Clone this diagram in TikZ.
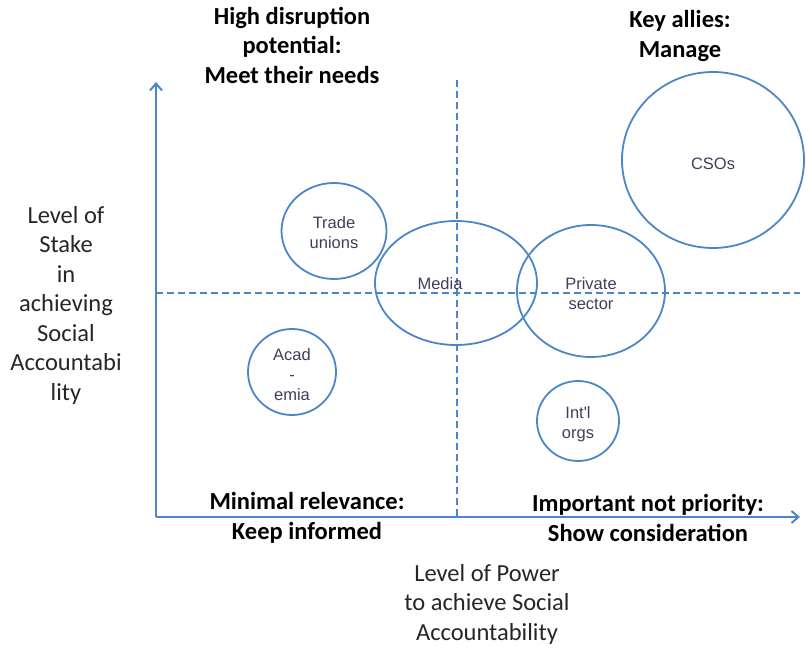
\documentclass[tikz,border=0pt]{standalone}
\usepackage{fontspec}
\setmainfont{Carlito}
\newfontfamily\bubblefont{Liberation Sans}
\usetikzlibrary{shapes.geometric,arrows.meta}
\definecolor{axisblue}{HTML}{4A86C8}
\definecolor{bubbletext}{HTML}{3C3F5C}
\tikzset{
  quadtitle/.style={font=\bfseries\fontsize{24.5}{29.5}\selectfont, align=center, text=black, inner sep=0pt},
  axistitle/.style={font=\fontsize{24.5}{29.5}\selectfont, align=center, text=black!85, inner sep=0pt},
  bubble/.style={ellipse, draw=axisblue, line width=1.8pt, inner sep=0pt},
  bubtext/.style={font=\bubblefont\fontsize{16.5}{20}\selectfont, align=center, text=bubbletext, inner sep=0pt},
  axisline/.style={draw=axisblue, line width=2pt, -{Straight Barb[length=7pt,width=12pt,line width=2pt]}},
  divider/.style={draw=axisblue, line width=1.8pt, dash pattern=on 7pt off 4pt},
}
\begin{document}
\begin{tikzpicture}[x=1pt,y=-1pt]
  \useasboundingbox (0,0) rectangle (806,652);

  % stakeholder bubbles
  \node[bubble, minimum width=105pt, minimum height=96pt] (unions) at (334,231) {};
  \node[bubble, minimum width=162pt, minimum height=124pt] (media) at (456,283) {};
  \node[bubble, minimum width=88pt, minimum height=86pt] (acad) at (292,372) {};
  \node[bubble, minimum width=148pt, minimum height=132pt] (private) at (591,291) {};
  \node[bubble, minimum width=82pt, minimum height=80pt] (intl) at (578,421) {};
  \node[bubble, minimum width=182pt, minimum height=176pt] (csos) at (713,160) {};

  % axes and quadrant dividers
  \coordinate (origin) at (156,517);
  \coordinate (ytip) at (156,82);
  \coordinate (xtip) at (800,517);
  \coordinate (vtop) at (457,80);
  \coordinate (vbot) at (457,517);
  \coordinate (hleft) at (156,293);
  \coordinate (hright) at (800,293);
  \draw[divider] (vtop) -- (vbot);
  \draw[divider] (hleft) -- (hright);
  \draw[axisline] (origin) -- (ytip);
  \draw[axisline] (origin) -- (xtip);

  % bubble labels
  \node[bubtext] (unionslbl) at (334,233) {Trade\\unions};
  \node[bubtext] (medialbl) at (440,284) {Media};
  \node[bubtext] (acadlbl) at (292,375) {Acad\\-\\emia};
  \node[bubtext] (privatelbl) at (591,294) {Private\\sector};
  \node[bubtext] (intllbl) at (578,424) {Int'l\\orgs};
  \node[bubtext] (csoslbl) at (713,164) {CSOs};

  % quadrant titles
  \node[quadtitle] (q1) at (292,45) {High disruption\\potential:\\Meet their needs};
  \node[quadtitle] (q2) at (680,36) {Key allies:\\Manage};
  \node[quadtitle] (q3) at (307,518) {Minimal relevance:\\Keep informed};
  \node[quadtitle] (q4) at (648,518) {Important not priority:\\Show consideration};

  % axis titles
  \node[axistitle] (ylbl) at (66,305) {Level of\\Stake\\in\\achieving\\Social\\Accountabi\\lity};
  \node[axistitle] (xlbl) at (487,604) {Level of Power\\to achieve Social\\Accountability};
\end{tikzpicture}
\end{document}
